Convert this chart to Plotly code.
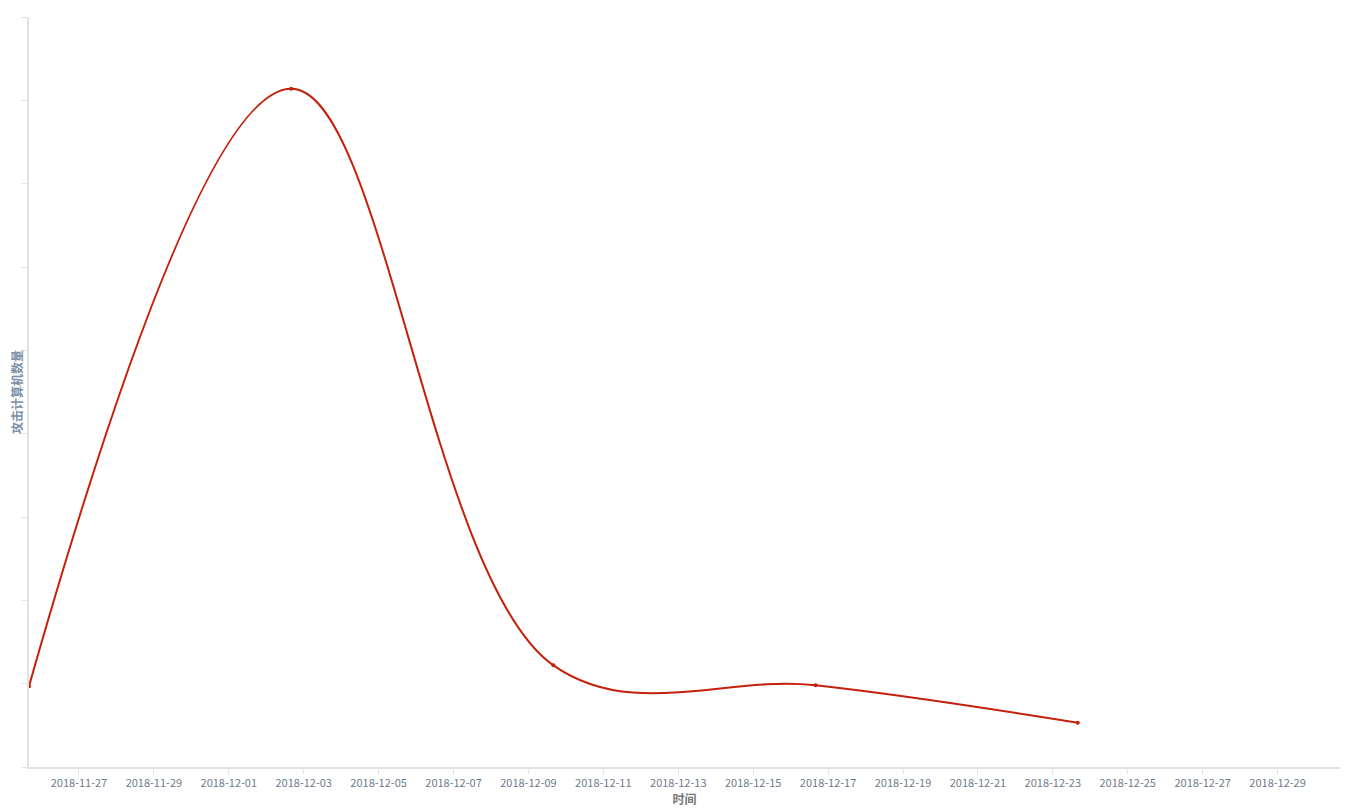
import plotly.graph_objects as go

dates = ["2018-11-25 16:00", "2018-12-02 16:00", "2018-12-09 16:00", "2018-12-16 16:00", "2018-12-23 16:00"]
counts = [97, 814, 122, 98, 53]

x_title = "时间"
y_title = "攻击计算机数量"

fig = go.Figure()
fig.add_trace(go.Scatter(
    x=dates, y=counts, mode="lines+markers",
    line=dict(color="#c4200c", width=2, shape="spline", smoothing=1.05),
    marker=dict(color="#c4200c", size=4),
    showlegend=False,
))

# page body has an 8px margin, so the figure is sized/offset accordingly
fig.update_layout(
    width=1340, height=804,
    margin=dict(l=21, r=8, t=9, b=45, autoexpand=False),
    paper_bgcolor="white", plot_bgcolor="white",
    font=dict(family="Noto Sans CJK SC, Open Sans, sans-serif", size=11, color="#6e7a8a"),
    xaxis=dict(
        type="date",
        range=["2018-11-25 16:00", "2018-12-30 16:00"],
        tick0="2018-11-27", dtick=2 * 86400000, tickformat="%Y-%m-%d",
        showgrid=False, zeroline=False,
        showline=True, linecolor="#e3e3e3", linewidth=2,
        ticks="outside", ticklen=5, tickcolor="#e3e3e3",
        tickfont=dict(size=11, color="#6e7a8a"),
        title=dict(text="<b>" + x_title + "</b>", font=dict(size=12, color="#777777"), standoff=5),
    ),
    yaxis=dict(
        range=[0, 900], dtick=100,
        showgrid=False, zeroline=False,
        showline=True, linecolor="#e3e3e3", linewidth=2,
        ticks="outside", ticklen=6, tickcolor="#e3e3e3",
        showticklabels=False,
        title=dict(text="<b>" + y_title + "</b>", font=dict(size=12, color="#7a90a8"), standoff=6),
    ),
)

fig.write_html("out.html")
